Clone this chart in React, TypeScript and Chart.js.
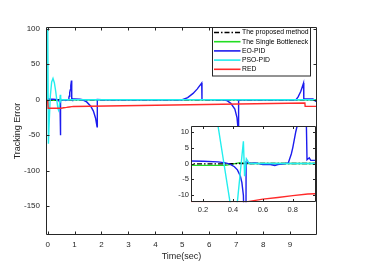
import React, { useEffect, useRef } from "react";
import { Chart, registerables } from "chart.js";

Chart.register(...registerables);

// ---------- data ----------
const SERIES_LABELS = ["The proposed method", "The Single Bottleneck", "EO-PID", "PSO-PID", "RED"];
const SERIES_COLORS = ["#000000", "#22dd22", "#1c1cee", "#22eeee", "#ff2a2a"];

const X_TICKS = [0, 1, 2, 3, 4, 5, 6, 7, 8, 9];
const Y_TICKS = [100, 50, 0, -50, -100, -150];
const INSET_X_TICKS = [0.2, 0.4, 0.6, 0.8];
const INSET_Y_TICKS = [10, 5, 0, -5, -10];

const proposedTime = [0, 0.02, 0.36, 0.45, 10];
const proposedError = [0, -0.1, -0.1, 0, 0];

const bottleneckTime = [0, 0.02, 0.35, 0.44, 0.5, 10];
const bottleneckError = [0, -0.6, -0.6, 0.2, 0, 0];

const eoTime = [0, 0.12, 0.2, 0.3, 0.35, 0.38, 0.41, 0.43, 0.45, 0.46, 0.47, 0.475, 0.48, 0.486, 0.488, 0.52, 0.55, 0.6, 0.65, 0.68, 0.7, 0.75, 0.77, 0.79, 0.8, 0.82, 0.84, 0.86, 0.885, 0.895, 0.91, 0.92, 1.0, 1.2, 1.3, 1.45, 1.6, 1.7, 1.78, 1.835, 1.845, 2.0, 5.0, 5.2, 5.4, 5.55, 5.72, 5.73, 6.5, 6.65, 6.8, 6.95, 7.03, 7.08, 7.09, 7.2, 9.22, 9.3, 9.4, 9.5, 9.51, 9.85, 9.95, 10];
const eoError = [1, 0.8, 0.7, 0.5, 0.2, -0.2, -1, -2, -4, -6, -10, -20, -50, -50, 0.5, 0, 0.2, -0.3, -0.3, -0.6, -0.3, 0, 0.2, 3, 5, 10, 14, 20, 27, 1.2, 1.8, 1, 1, 0.8, 0, -3, -9, -16, -26, -38, 0.5, 0, 0, 3, 9, 15, 23.5, 0.5, 0, -1, -5, -13, -25, -45, 0, 0, 0, 4, 12, 23.5, 1, 1, -2, -2];

const psoTime = [0, 0.005, 0.03, 0.06, 0.1, 0.15, 0.2, 0.25, 0.3, 0.34, 0.38, 0.41, 0.43, 0.47, 0.478, 0.49, 0.51, 9.9, 10];
const psoError = [0, 100, -62, -30, 5, 25, 30, 24, 12, 0, -12, -15, -12, 7, -4, 1.5, 0, 0, -2];

const redTime = [0, 0.02, 0.5, 0.6, 0.7, 0.8, 0.9, 0.95, 9.55, 9.56, 10];
const redError = [0, -12, -12, -11.2, -10.7, -10.1, -9.6, -9.5, -4.5, -9.3, -9.3];

// ---------- helpers ----------
const FONT = "'Liberation Sans', Arial, Helvetica, sans-serif";
const AXIS_COLOR = "#262626";

const toPoints = (t: number[], y: number[]) => t.map((x, i) => ({ x, y: y[i] }));

function buildDatasets(width: number) {
  const series = [
    { t: proposedTime, y: proposedError, dash: [5, 2, 1.5, 2], order: 4 },
    { t: bottleneckTime, y: bottleneckError, dash: [], order: 5 },
    { t: eoTime, y: eoError, dash: [], order: 3 },
    { t: psoTime, y: psoError, dash: [], order: 2 },
    { t: redTime, y: redError, dash: [], order: 1 },
  ];
  return series.map((s, i) => ({
    label: SERIES_LABELS[i],
    data: toPoints(s.t, s.y),
    borderColor: SERIES_COLORS[i],
    backgroundColor: SERIES_COLORS[i],
    borderWidth: width,
    borderDash: s.dash,
    pointRadius: 0,
    fill: false,
    tension: 0,
    order: s.order,
  }));
}

function framePlugin(id: string, xTicks: number[], yTicks: number[], tickLen: number) {
  return {
    id,
    afterDatasetsDraw(chart: any) {
      const { ctx, chartArea: a, scales } = chart;
      const l = Math.round(a.left) + 0.5;
      const r = Math.round(a.right) - 0.5;
      const t = Math.round(a.top) + 0.5;
      const b = Math.round(a.bottom) - 0.5;
      ctx.save();
      ctx.strokeStyle = AXIS_COLOR;
      ctx.lineWidth = 1;
      ctx.setLineDash([]);
      ctx.beginPath();
      ctx.rect(l, t, r - l, b - t);
      xTicks.forEach((v) => {
        const p = Math.round(scales.x.getPixelForValue(v)) + 0.5;
        ctx.moveTo(p, b);
        ctx.lineTo(p, b - tickLen);
        ctx.moveTo(p, t);
        ctx.lineTo(p, t + tickLen);
      });
      yTicks.forEach((v) => {
        const p = Math.round(scales.y.getPixelForValue(v)) + 0.5;
        ctx.moveTo(l, p);
        ctx.lineTo(l + tickLen, p);
        ctx.moveTo(r, p);
        ctx.lineTo(r - tickLen, p);
      });
      ctx.stroke();
      ctx.restore();
    },
  };
}

const legendPlugin = {
  id: "boxLegend",
  afterDraw(chart: any) {
    const { ctx, chartArea: a } = chart;
    const x0 = Math.round(a.right) - 104.5;
    const y0 = Math.round(a.top) + 0.5;
    const w = 98;
    const h = 48.5;
    ctx.save();
    ctx.fillStyle = "#ffffff";
    ctx.fillRect(x0, y0, w, h);
    ctx.strokeStyle = AXIS_COLOR;
    ctx.lineWidth = 1;
    ctx.setLineDash([]);
    ctx.strokeRect(x0, y0, w, h);
    chart.data.datasets.forEach((ds: any, i: number) => {
      const y = y0 + 5 + i * 9.2;
      ctx.strokeStyle = ds.borderColor;
      ctx.lineWidth = 1.6;
      ctx.setLineDash(ds.borderDash || []);
      ctx.beginPath();
      ctx.moveTo(x0 + 1.5, y);
      ctx.lineTo(x0 + 28, y);
      ctx.stroke();
      ctx.setLineDash([]);
      ctx.fillStyle = "#000000";
      ctx.font = `6.8px ${FONT}`;
      ctx.textBaseline = "middle";
      ctx.textAlign = "left";
      ctx.fillText(ds.label, x0 + 29.5, y);
    });
    ctx.restore();
  },
};

const whiteBgPlugin = {
  id: "whiteBg",
  beforeDraw(chart: any) {
    const { ctx, chartArea: a, height } = chart;
    ctx.save();
    ctx.fillStyle = "#ffffff";
    const top = Math.round(a.top);
    ctx.fillRect(0, top, Math.round(a.right), height - top);
    ctx.restore();
  },
};

const tickFmt = (v: any) => String(Math.round(Number(v) * 100) / 100);

export default function App() {
  const mainRef = useRef<HTMLCanvasElement>(null);
  const insetRef = useRef<HTMLCanvasElement>(null);

  useEffect(() => {
    const main = new Chart(mainRef.current as HTMLCanvasElement, {
      type: "line",
      data: { datasets: buildDatasets(1.4) as any },
      options: {
        responsive: false,
        animation: false,
        events: [],
        layout: { padding: { left: 0, top: 27, right: 52, bottom: 0 } },
        plugins: { legend: { display: false }, tooltip: { enabled: false } },
        scales: {
          x: {
            type: "linear",
            min: -0.06,
            max: 10,
            afterBuildTicks: (s: any) => {
              s.ticks = X_TICKS.map((v) => ({ value: v }));
            },
            afterFit: (s: any) => {
              s.height = 29;
            },
            grid: { display: false, drawTicks: false },
            border: { display: false },
            ticks: { font: { size: 8, family: FONT }, color: AXIS_COLOR, padding: 5, maxRotation: 0, autoSkip: false, callback: tickFmt },
            title: { display: true, text: "Time(sec)", font: { size: 9, family: FONT }, color: AXIS_COLOR, padding: { top: 0, bottom: 2 } },
          },
          y: {
            type: "linear",
            min: -190.5,
            max: 102.5,
            afterBuildTicks: (s: any) => {
              s.ticks = Y_TICKS.map((v) => ({ value: v }));
            },
            afterFit: (s: any) => {
              s.width = 46;
            },
            grid: { display: false, drawTicks: false },
            border: { display: false },
            ticks: { font: { size: 8, family: FONT }, color: AXIS_COLOR, padding: 6, autoSkip: false, callback: tickFmt },
            title: { display: true, text: "Tracking Error", font: { size: 9, family: FONT }, color: AXIS_COLOR, padding: { top: 12.6, bottom: 0 } },
          },
        },
      },
      plugins: [framePlugin("mainFrame", X_TICKS, Y_TICKS, 3), legendPlugin],
    } as any);

    const inset = new Chart(insetRef.current as HTMLCanvasElement, {
      type: "line",
      data: { datasets: buildDatasets(1.4) as any },
      options: {
        responsive: false,
        animation: false,
        events: [],
        layout: { padding: { left: 0, top: 10, right: 1.3, bottom: 0 } },
        plugins: { legend: { display: false }, tooltip: { enabled: false } },
        scales: {
          x: {
            type: "linear",
            min: 0.12,
            max: 0.953,
            afterBuildTicks: (s: any) => {
              s.ticks = INSET_X_TICKS.map((v) => ({ value: v }));
            },
            afterFit: (s: any) => {
              s.height = 13.7;
            },
            grid: { display: false, drawTicks: false },
            border: { display: false },
            ticks: { font: { size: 7.5, family: FONT }, color: AXIS_COLOR, padding: 3, maxRotation: 0, autoSkip: false, callback: tickFmt },
          },
          y: {
            type: "linear",
            min: -12.2,
            max: 11.8,
            afterBuildTicks: (s: any) => {
              s.ticks = INSET_Y_TICKS.map((v) => ({ value: v }));
            },
            afterFit: (s: any) => {
              s.width = 21;
            },
            grid: { display: false, drawTicks: false },
            border: { display: false },
            ticks: { font: { size: 7.5, family: FONT }, color: AXIS_COLOR, padding: 2, autoSkip: false, callback: tickFmt },
          },
        },
      },
      plugins: [whiteBgPlugin, framePlugin("insetFrame", INSET_X_TICKS, INSET_Y_TICKS, 2.5)],
    } as any);

    return () => {
      main.destroy();
      inset.destroy();
    };
  }, []);

  return (
    <div style={{ position: "fixed", left: 0, top: 0, width: 369, height: 264, background: "#ffffff" }}>
      <canvas ref={mainRef} width={369} height={264} style={{ position: "absolute", left: 0, top: 0, width: 369, height: 264 }} />
      <canvas ref={insetRef} width={147} height={100} style={{ position: "absolute", left: 170, top: 116, width: 147, height: 100 }} />
    </div>
  );
}
